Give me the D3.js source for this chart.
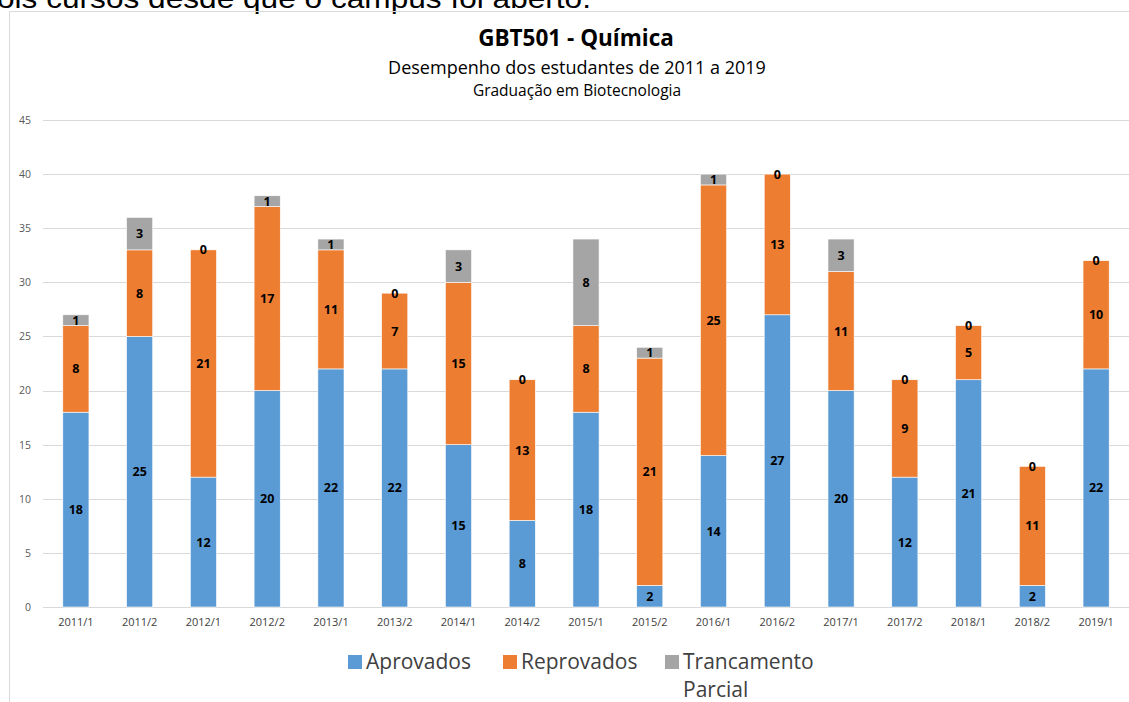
<!DOCTYPE html>
<html><head><meta charset="utf-8">
<script src="https://cdn.jsdelivr.net/npm/d3@7"></script>
<style>body{margin:0;background:#fff}svg{display:block}</style>
</head><body>
<svg id="c" width="1129" height="702"></svg>
<script>
const categories = ["2011/1","2011/2","2012/1","2012/2","2013/1","2013/2","2014/1","2014/2","2015/1","2015/2","2016/1","2016/2","2017/1","2017/2","2018/1","2018/2","2019/1"];
const aprovados  = [18,25,12,20,22,22,15,8,18,2,14,27,20,12,21,2,22];
const reprovados = [8,8,21,17,11,7,15,13,8,21,25,13,11,9,5,11,10];
const trancamento = [1,3,0,1,1,0,3,0,8,1,1,0,3,0,0,0,0];
const seriesNames = ["Aprovados","Reprovados","Trancamento Parcial"];
const yTicks = [0,5,10,15,20,25,30,35,40,45];
const colors = ["#5B9BD5","#ED7D31","#A5A5A5"];

const svg = d3.select("#c");
const W = 1129, H = 702;

// cut-off text at the top (from page above)
svg.append("text").attr("x",-3).attr("y",8)
  .attr("font-family","Liberation Sans, Arial, sans-serif").attr("font-size",28)
  .attr("textLength",594).attr("lengthAdjust","spacingAndGlyphs")
  .attr("fill","#000").text("ois cursos desde que o campus foi aberto.");

// frame
svg.append("line").attr("x1",9.5).attr("x2",9.5).attr("y1",11.5).attr("y2",H).attr("stroke","#d9d9d9");
svg.append("line").attr("x1",9.5).attr("x2",W).attr("y1",11.5).attr("y2",11.5).attr("stroke","#d9d9d9");

const x = d3.scaleBand().domain(categories).range([44,1128]).paddingInner(0.59).paddingOuter(0.295);
const y = d3.scaleLinear().domain([0,45]).range([607,120]);

// gridlines
svg.append("g").selectAll("line").data(yTicks).join("line")
  .attr("x1",43).attr("x2",W).attr("y1",d=>Math.round(y(d))+0.5).attr("y2",d=>Math.round(y(d))+0.5)
  .attr("stroke","#d9d9d9").attr("stroke-width",1);

// y axis labels
const yAxis = d3.axisLeft(y).tickValues(yTicks).tickSize(0).tickPadding(0);
const gy = svg.append("g").attr("transform","translate(31,0)").call(yAxis);
gy.select(".domain").remove();
gy.selectAll("text").attr("font-family","Open Sans, Noto Sans, sans-serif").attr("font-size",10.5).attr("fill","#595959");

// x axis labels
const xAxis = d3.axisBottom(x).tickSize(0).tickPadding(0);
const gx = svg.append("g").attr("transform","translate(0,618)").call(xAxis);
gx.select(".domain").remove();
gx.selectAll("text").attr("font-family","Open Sans, Noto Sans, sans-serif").attr("font-size",11).attr("fill","#404040");

// stacked data
const rows = categories.map((c,i)=>({cat:c, a:aprovados[i], r:reprovados[i], t:trancamento[i]}));
const stack = d3.stack().keys(["a","r","t"])(rows);

const g = svg.append("g");
stack.forEach((s,si)=>{
  g.append("g").selectAll("rect").data(s).join("rect")
    .attr("x",d=>x(d.data.cat)).attr("width",x.bandwidth())
    .attr("y",d=>y(d[1])).attr("height",d=>y(d[0])-y(d[1]))
    .attr("fill",colors[si]).attr("stroke","#fff").attr("stroke-width",0.6);
});
stack.forEach((s,si)=>{
  g.append("g").selectAll("text").data(s).join("text")
    .attr("x",d=>x(d.data.cat)+x.bandwidth()/2)
    .attr("y",d=>(y(d[0])+y(d[1]))/2)
    .attr("dy","0.36em").attr("text-anchor","middle")
    .attr("font-family","Open Sans, Noto Sans, sans-serif").attr("font-weight","bold").attr("font-size",12.5)
    .attr("fill","#000").text(d=>d[1]-d[0]);
});

// titles
svg.append("text").attr("x",576).attr("y",46).attr("text-anchor","middle")
  .attr("font-family","Open Sans, Noto Sans, sans-serif").attr("font-weight","bold").attr("font-size",22.5).attr("fill","#000")
  .text("GBT501 - Química");
svg.append("text").attr("x",577).attr("y",74).attr("text-anchor","middle")
  .attr("font-family","Open Sans, Noto Sans, sans-serif").attr("font-size",18).attr("fill","#000")
  .text("Desempenho dos estudantes de 2011 a 2019");
svg.append("text").attr("x",577).attr("y",96).attr("text-anchor","middle")
  .attr("font-family","Open Sans, Noto Sans, sans-serif").attr("font-size",15.5).attr("fill","#000")
  .text("Graduação em Biotecnologia");

// legend
const legX = [348, 503, 665];
const leg = svg.append("g");
seriesNames.forEach((n,i)=>{
  leg.append("rect").attr("x",legX[i]).attr("y",655).attr("width",14).attr("height",14).attr("fill",colors[i]);
  const t = leg.append("text").attr("x",legX[i]+18).attr("y",669)
    .attr("font-family","Open Sans, Noto Sans, sans-serif").attr("font-size",21).attr("fill","#404040");
  if(i===2){
    t.append("tspan").attr("x",legX[i]+18).text("Trancamento");
    t.append("tspan").attr("x",legX[i]+18).attr("dy",28).text("Parcial");
  } else t.text(n);
});
</script>
</body></html>
